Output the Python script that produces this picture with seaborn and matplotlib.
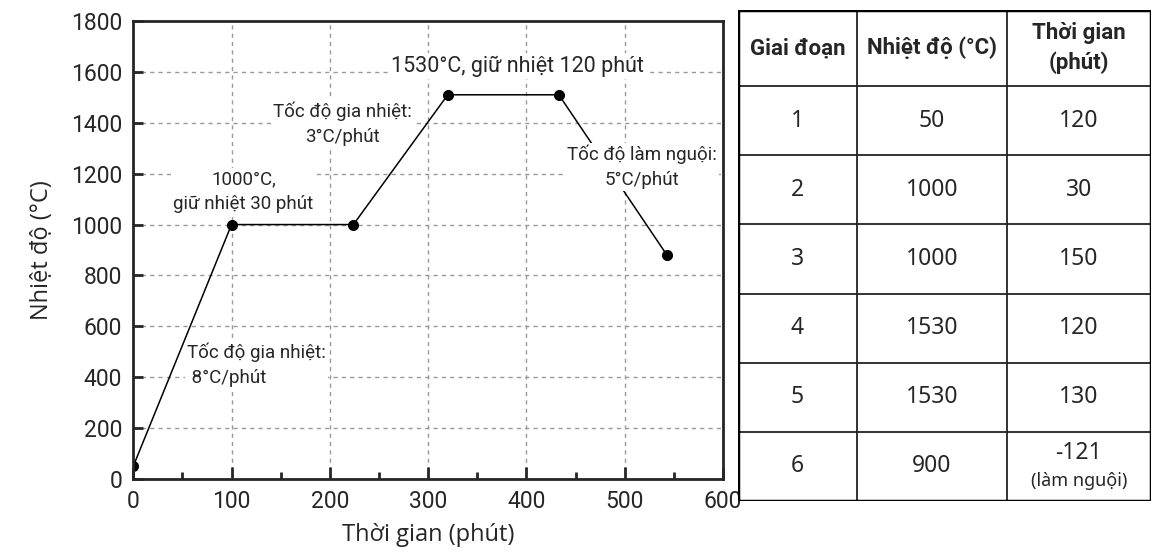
import numpy as np
import pandas as pd
import seaborn as sns
import matplotlib.pyplot as plt
from matplotlib.ticker import MultipleLocator

# data
time_min = [0, 100, 224, 320, 433, 543]
temp_c = [50, 1000, 1000, 1510, 1510, 880]

# table
stages = ["1", "2", "3", "4", "5", "6"]
table_temp = ["50", "1000", "1000", "1530", "1530", "900"]
table_time = ["120", "30", "150", "120", "130", "-121"]
headers = ["Giai đoạn", "Nhiệt độ (°C)", "Thời gian\n(phút)"]

sns.set_style("ticks")
plt.rcParams['font.family'] = ['Roboto', 'DejaVu Sans']

fig = plt.figure(figsize=(11.75, 5.57), dpi=100)
ax = fig.add_axes([0.1134, 0.14, 0.5019, 0.8223])

df = pd.DataFrame({"t": time_min, "T": temp_c})
sns.lineplot(data=df, x="t", y="T", ax=ax, color="black", linewidth=1.1,
             marker="o", markersize=7.2, markeredgecolor="black", zorder=3)

ax.set_xlim(0, 600)
ax.set_ylim(0, 1800)
ax.xaxis.set_major_locator(MultipleLocator(100))
ax.xaxis.set_minor_locator(MultipleLocator(50))
ax.yaxis.set_major_locator(MultipleLocator(200))
ax.tick_params(axis="x", which="major", direction="in", length=8.5, width=2, pad=8, labelsize=16.5)
ax.tick_params(axis="x", which="minor", direction="in", length=5, width=2)
ax.tick_params(axis="y", which="major", direction="in", length=7, width=2, pad=8, labelsize=16.5)
for s in ax.spines.values():
    s.set_linewidth(2)
    s.set_zorder(6)
ax.grid(True, which="major", color="#999999", linestyle=(0, (3, 3)), linewidth=1)

ax.set_xlabel("Thời gian (phút)", fontsize=17, family=["Open Sans", "DejaVu Sans"], labelpad=7)
ax.set_ylabel("Nhiệt độ (°C)", fontsize=17, family=["Open Sans", "DejaVu Sans"], labelpad=12)

# labels: white boxes hide the grid; only the cooling label sits over the line
box = dict(facecolor="white", edgecolor="none", pad=1.5)
ax.text(391, 1623, "1530°C, giữ nhiệt 120 phút", ha="center", va="center",
        fontsize=15.5, bbox=box, zorder=2.5)
ax.text(213, 1395, "Tốc độ gia nhiệt:\n3°C/phút", ha="center", va="center",
        fontsize=13.5, bbox=box, zorder=2.5, linespacing=1.5)
ax.text(112, 1128, "1000°C,\ngiữ nhiệt 30 phút", ha="center", va="center",
        fontsize=13.5, bbox=box, zorder=2.5, linespacing=1.5)
ax.text(518, 1226, "Tốc độ làm nguội:\n5°C/phút", ha="center", va="center",
        fontsize=13.5, bbox=box, zorder=4, linespacing=1.5)
ax.text(55, 448, "Tốc độ gia nhiệt:\n 8°C/phút", ha="left", va="center",
        fontsize=13.5, bbox=box, zorder=2.5, linespacing=1.5)

# table drawn in its own axes
tax = fig.add_axes([0.628, 0.1005, 0.3513, 0.8815])
tax.set_xlim(738, 1151)
tax.set_ylim(501, 10)
tax.axis("off")
col_edges = [738, 857, 1007, 1151]
header_bottom = 86
row_h = (501 - header_bottom) / len(stages)
row_edges = [10, header_bottom] + [header_bottom + row_h * (i + 1) for i in range(len(stages))]

for x in col_edges[1:-1]:
    tax.plot([x, x], [10, 501], color="#222222", lw=1.3)
for y in row_edges[1:-1]:
    tax.plot([738, 1151], [y, y], color="#222222", lw=1.3)
tax.plot([738, 1151, 1151, 738, 738], [10, 10, 501, 501, 10], color="black", lw=2.5,
         solid_joinstyle="miter")

tfont = ["Noto Sans", "DejaVu Sans"]
centers_x = [(col_edges[i] + col_edges[i + 1]) / 2 for i in range(3)]
for cx, h in zip(centers_x, headers):
    tax.text(cx, (10 + header_bottom) / 2, h, ha="center", va="center", fontsize=16,
             fontweight="bold", family=["Roboto", "DejaVu Sans"], linespacing=1.4)

for i, (st, tp, tm) in enumerate(zip(stages, table_temp, table_time)):
    cy = (row_edges[i + 1] + row_edges[i + 2]) / 2
    tax.text(centers_x[0], cy, st, ha="center", va="center", fontsize=16.5, family=tfont)
    tax.text(centers_x[1], cy, tp, ha="center", va="center", fontsize=16.5, family=tfont)
    if i == len(stages) - 1:
        tax.text(centers_x[2], cy - 13, tm, ha="center", va="center", fontsize=16.5, family=tfont)
        tax.text(centers_x[2], cy + 15, "(làm nguội)", ha="center", va="center",
                 fontsize=13, family=tfont)
    else:
        tax.text(centers_x[2], cy, tm, ha="center", va="center", fontsize=16.5, family=tfont)

fig.savefig("out.png", dpi=100)
